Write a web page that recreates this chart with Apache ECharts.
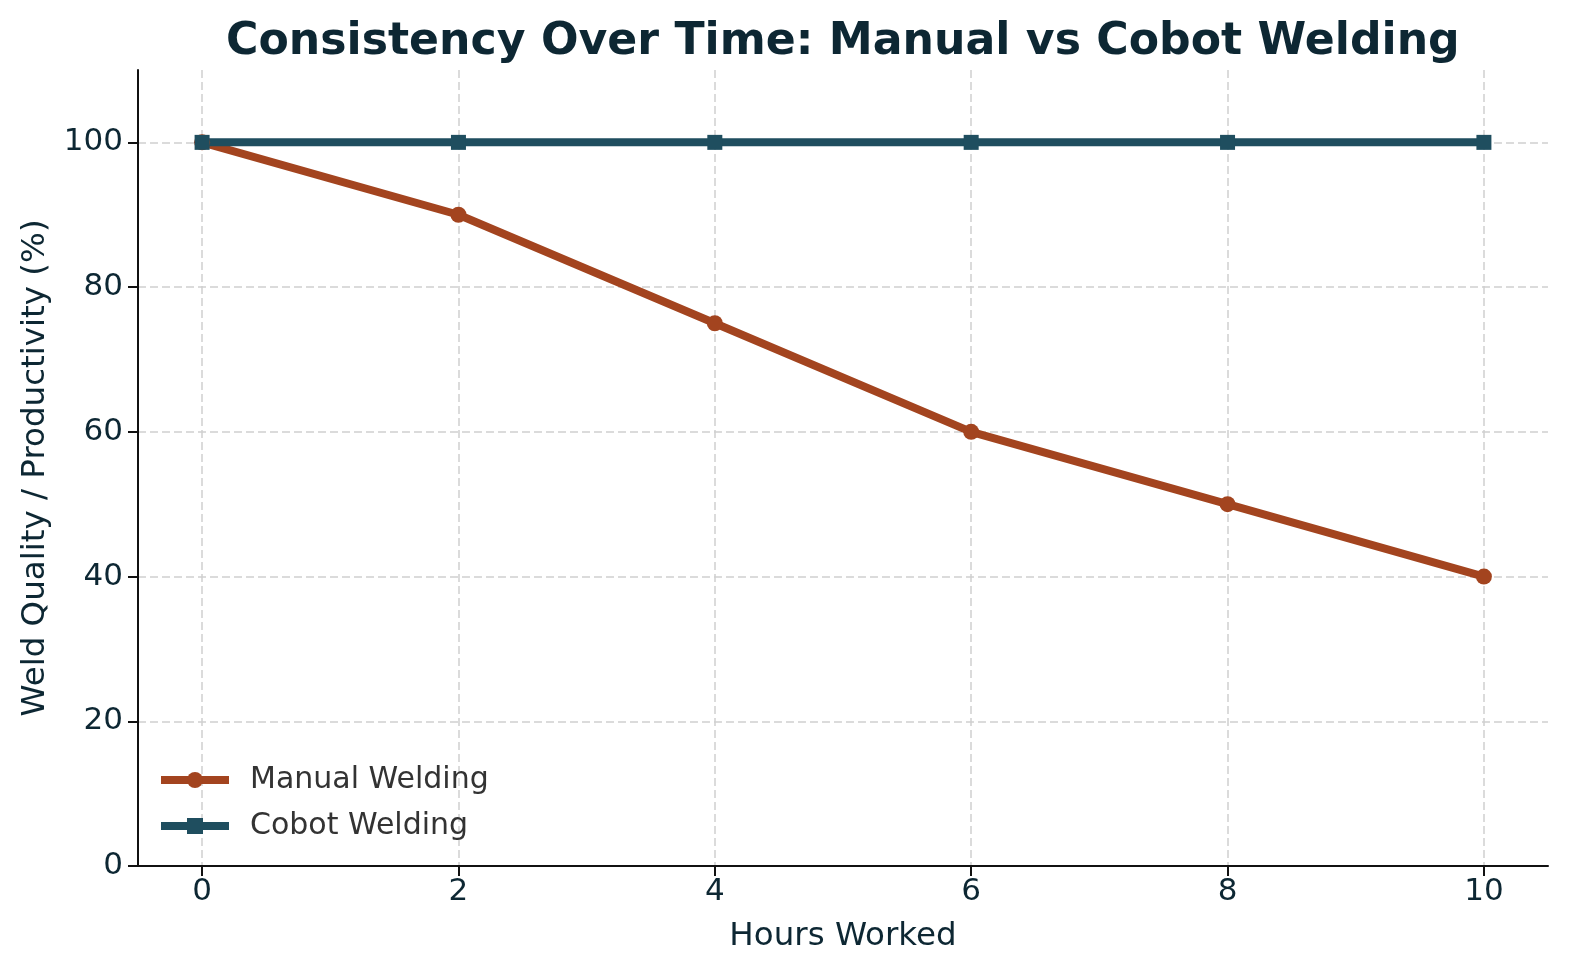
<!DOCTYPE html>
<html>
<head>
<meta charset="utf-8">
<script src="https://cdn.jsdelivr.net/npm/echarts@6/dist/echarts.min.js"></script>
<style>
html,body{margin:0;padding:0;background:#fff;overflow:hidden;}
#chart{width:1580px;height:980px;}
</style>
</head>
<body>
<div id="chart"></div>
<script>
const hours = [0, 2, 4, 6, 8, 10];
const manualWelding = [100, 90, 75, 60, 50, 40];
const cobotWelding = [100, 100, 100, 100, 100, 100];
const xTicks = [0, 2, 4, 6, 8, 10];
const yTicks = [0, 20, 40, 60, 80, 100];

const FONT = 'DejaVu Sans';
const TXT = '#0d2733';

const chart = echarts.init(document.getElementById('chart'), null, {renderer: 'canvas'});
chart.setOption({
  backgroundColor: '#ffffff',
  animation: false,
  title: {
    text: 'Consistency Over Time: Manual vs Cobot Welding',
    left: 221,
    top: 16,
    textStyle: {fontFamily: FONT, fontWeight: 'bold', fontSize: 44.2, color: TXT}
  },
  legend: {
    orient: 'vertical',
    left: 157,
    top: 765,
    padding: 0,
    itemWidth: 68,
    itemHeight: 20,
    itemGap: 16,
    lineStyle: {width: 8},
    textStyle: {fontFamily: FONT, fontSize: 30, color: '#333333', padding: [0, 0, 0, 16]},
    data: ['Manual Welding', 'Cobot Welding']
  },
  grid: {left: 138, right: 32, top: 70, bottom: 114, containLabel: false, outerBoundsMode: 'none'},
  xAxis: {
    type: 'value',
    min: -0.5,
    max: 10.5,
    name: 'Hours Worked',
    nameLocation: 'middle',
    nameGap: 54,
    nameTextStyle: {fontFamily: FONT, fontSize: 32.5, color: TXT},
    axisLine: {show: true, onZero: false, lineStyle: {color: '#111111', width: 2}},
    axisTick: {show: true, inside: false, length: 10, lineStyle: {color: '#111111', width: 2}, customValues: xTicks},
    axisLabel: {fontFamily: FONT, fontSize: 31, color: TXT, margin: 10, customValues: xTicks},
    splitLine: {show: true, lineStyle: {color: '#d0d0d0', width: 1.5, type: [8, 4]}}
  },
  yAxis: {
    type: 'value',
    min: 0,
    max: 110,
    name: 'Weld Quality / Productivity (%)',
    nameLocation: 'middle',
    nameGap: 86,
    nameRotate: 90,
    nameTextStyle: {fontFamily: FONT, fontSize: 32.5, color: TXT},
    axisLine: {show: true, onZero: false, lineStyle: {color: '#111111', width: 2}},
    axisTick: {show: true, inside: false, length: 10, lineStyle: {color: '#111111', width: 2}, customValues: yTicks},
    axisLabel: {fontFamily: FONT, fontSize: 31, color: TXT, margin: 15, customValues: yTicks},
    splitLine: {show: true, lineStyle: {color: '#d0d0d0', width: 1.5, type: [8, 4]}}
  },
  series: [
    {
      name: 'Manual Welding',
      type: 'line',
      data: hours.map((h, i) => [h, manualWelding[i]]),
      symbol: 'circle',
      symbolSize: 16,
      lineStyle: {width: 8, color: '#A3441F'},
      itemStyle: {color: '#A3441F'}
    },
    {
      name: 'Cobot Welding',
      type: 'line',
      data: hours.map((h, i) => [h, cobotWelding[i]]),
      symbol: 'rect',
      symbolSize: 15,
      lineStyle: {width: 8, color: '#1F4E5F'},
      itemStyle: {color: '#1F4E5F'}
    }
  ]
});
</script>
</body>
</html>
